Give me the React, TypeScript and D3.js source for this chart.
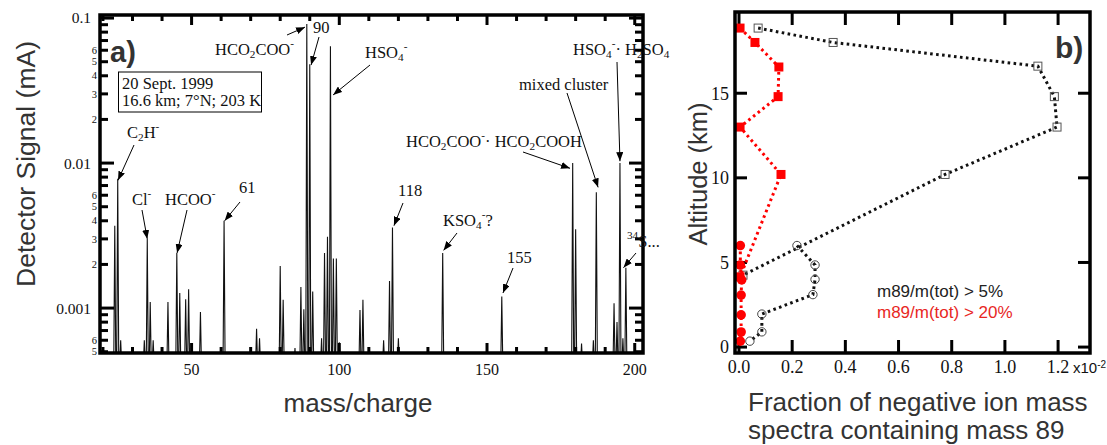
import React from 'react';
import * as d3 from 'd3';

// ---------- Panel a) data: mass spectrum ----------
const peakMass = [24, 25, 26, 34, 35, 36, 37, 42, 45, 46, 48, 49, 53, 61, 72, 73, 80, 81, 85, 87, 88, 89, 90, 91, 94, 95, 96, 97, 98, 99, 100, 107, 108, 115, 117, 118, 120, 135, 155, 179, 180, 182, 186, 187, 193, 194, 195, 196, 197];
const peakSignal = [0.0037, 0.0078, 0.0006, 0.0006, 0.003, 0.0011, 0.0006, 0.0011, 0.0024, 0.00127, 0.00115, 0.00135, 0.00094, 0.004, 0.00072, 0.00062, 0.00195, 0.00114, 0.00053, 0.0014, 0.00098, 0.091, 0.048, 0.0013, 0.00062, 0.0024, 0.0031, 0.064, 0.0022, 0.0022, 0.00058, 0.00097, 0.00114, 0.0006, 0.00154, 0.0036, 0.00062, 0.0024, 0.0012, 0.01, 0.0035, 0.00057, 0.0006, 0.0063, 0.00108, 0.0008, 0.01, 0.00062, 0.0019];

const massMajorTicks = [50, 100, 150, 200];
const massMinorTicks = [20, 30, 40, 60, 70, 80, 90, 110, 120, 130, 140, 160, 170, 180, 190];
const signalMajorTicks = [0.1, 0.01, 0.001];
const signalMajorLabels = ['0.1', '0.01', '0.001'];
const signalMinorMantissas = [2, 3, 4, 5, 6, 7, 8, 9];
const signalMinorLabelled = [2, 3, 4, 5, 6];

type Part = [string, string?];
const annLabels: Part[][] = [
  [['C'], ['2', 'sub'], ['H'], ['-', 'sup']],
  [['Cl'], ['-', 'sup']],
  [['HCOO'], ['-', 'sup']],
  [['61']],
  [['HCO'], ['2', 'sub'], ['COO'], ['-', 'sup']],
  [['90']],
  [['HSO'], ['4', 'sub'], ['-', 'sup']],
  [['118']],
  [['KSO'], ['4', 'sub'], ['-', 'sup'], ['?']],
  [['155']],
  [['HCO'], ['2', 'sub'], ['COO'], ['-', 'sup'], ['· HCO'], ['2', 'sub'], ['COOH']],
  [['mixed cluster']],
  [['HSO'], ['4', 'sub'], ['-', 'sup'], ['· H'], ['2', 'sub'], ['SO'], ['4', 'sub']],
  [['34', 'sup'], ['S...']],
];
// arrow tips in data coords (mass, signal)
const annTipMass = [25.1, 35, 45.1, 61.2, 88.4, 90.45, 97.9, 118.5, 135.3, 155.4, 178.1, 187.6, 195, 196.2];
const annTipSignal = [0.0076, 0.003, 0.0024, 0.004, 0.0866, 0.0474, 0.0295, 0.0037, 0.0025, 0.00127, 0.0092, 0.0068, 0.0103, 0.0019];
// text positions & arrow tails (layout, px)
const annTextPos = [[127, 138], [132, 205], [165, 205], [239, 193], [215, 55], [313, 33], [365, 58], [398, 196], [443, 226], [507, 263], [406, 147], [519, 90], [573, 55], [627, 247]];
const annTail = [[134, 145], [142, 210], [187, 210], [240, 202], [287, 35], [319, 37], [370, 65], [403, 203], [457, 233], [513, 268], [523, 152], [567, 93], [617, 62], [636, 253]];

// ---------- Panel b) data: altitude profiles ----------
const blackSqFrac = [0.072, 0.354, 1.124, 1.186, 1.196, 0.775, 0.015];
const blackSqAlt = [18.85, 18.0, 16.6, 14.8, 13.0, 10.2, 4.25];
const blackCircFrac = [0.218, 0.286, 0.286, 0.278, 0.086, 0.086, 0.041];
const blackCircAlt = [6.0, 4.85, 4.0, 3.1, 1.95, 0.9, 0.35];
const redSqFrac = [0.004, 0.06, 0.15, 0.147, 0.004, 0.158, 0.004];
const redSqAlt = [18.85, 18.0, 16.55, 14.8, 13.0, 10.2, 4.15];
const redCircFrac = [0.005, 0.005, 0.01, 0.008, 0.008, 0.008, 0.005];
const redCircAlt = [6.0, 4.85, 3.97, 3.07, 1.9, 0.89, 0.35];

const fracTicks = [0, 0.2, 0.4, 0.6, 0.8, 1.0, 1.2];
const fracLabels = ['0.0', '0.2', '0.4', '0.6', '0.8', '1.0', '1.2'];
const altTicks = [0, 5, 10, 15];

const SERIF = '"Liberation Serif", "Times New Roman", serif';
const SANS = '"Liberation Sans", Arial, sans-serif';
const RED = '#ff0000';

function Rich({ parts, x, y, size }: { parts: Part[]; x: number; y: number; size: number }) {
  return (
    <text x={x} y={y} fontFamily={SERIF} fontSize={size} fill="#111">
      {parts.map((p, i) => {
        const k = p[1];
        if (k === 'sub') return <tspan key={i} fontSize={size * 0.68} baselineShift="-28%">{p[0]}</tspan>;
        if (k === 'sup') return <tspan key={i} fontSize={size * 0.68} baselineShift="70%">{p[0]}</tspan>;
        return <tspan key={i}>{p[0]}</tspan>;
      })}
    </text>
  );
}

export default function App() {
  // Panel a scales
  const ax = { l: 100, r: 643, t: 15, b: 353 };
  const x = d3.scaleLinear().domain([19, 202.8]).range([ax.l, ax.r]);
  const y = d3.scaleLog().domain([0.00049, 0.105]).range([ax.b, ax.t]);

  // Panel b scales
  const bx = { l: 735, r: 1090, t: 12, b: 353 };
  const x2 = d3.scaleLinear().domain([-0.015, 1.32]).range([bx.l, bx.r]);
  const y2 = d3.scaleLinear().domain([-0.35, 19.8]).range([bx.b, bx.t]);

  const floor = 0.0004;
  const hw = 0.35;
  const spec = peakMass
    .map((m, i) => `M${x(m - hw)},${y(floor)}L${x(m)},${y(peakSignal[i])}L${x(m + hw)},${y(floor)}`)
    .join('');

  const minorSignal: number[] = [];
  [-4, -3, -2].forEach((e) => {
    signalMinorMantissas.forEach((mm) => {
      const v = mm * Math.pow(10, e);
      if (v >= 0.00049 && v <= 0.105) minorSignal.push(v);
    });
  });

  const line = d3.line<[number, number]>().x((d) => x2(d[0])).y((d) => y2(d[1]));
  const zip = (a: number[], b: number[]) => a.map((v, i) => [v, b[i]] as [number, number]);

  const tickW = 3;

  return (
    <svg width={1107} height={445} style={{ position: 'absolute', left: 0, top: 0, background: '#fff' }}>
      <defs>
        <clipPath id="clipA">
          <rect x={ax.l} y={ax.t} width={ax.r - ax.l} height={ax.b - ax.t} />
        </clipPath>
        <marker id="arr" markerUnits="userSpaceOnUse" markerWidth={9} markerHeight={7} refX={9} refY={3.5} orient="auto">
          <path d="M0,0 L9,3.5 L0,7 z" fill="#000" />
        </marker>
      </defs>
      <rect x={0} y={0} width={1107} height={445} fill="#fff" />

      {/* ===== Panel a ===== */}
      <path d={spec} fill="none" stroke="#111" strokeWidth={1.1} clipPath="url(#clipA)" />

      {/* y ticks */}
      {signalMajorTicks.map((v, i) => (
        <g key={'ym' + i}>
          <line x1={ax.l} x2={ax.l + 14} y1={y(v)} y2={y(v)} stroke="#000" strokeWidth={tickW} />
          <line x1={ax.r - 14} x2={ax.r} y1={y(v)} y2={y(v)} stroke="#000" strokeWidth={tickW} />
          <text x={91} y={y(v)} dy="0.35em" textAnchor="end" fontFamily={SERIF} fontSize={15.5} fill="#111">
            {signalMajorLabels[i]}
          </text>
        </g>
      ))}
      {minorSignal.map((v, i) => {
        const mant = Math.round(v / Math.pow(10, Math.floor(Math.log10(v) + 1e-9)));
        return (
          <g key={'yn' + i}>
            <line x1={ax.l} x2={ax.l + 8} y1={y(v)} y2={y(v)} stroke="#000" strokeWidth={tickW} />
            <line x1={ax.r - 8} x2={ax.r} y1={y(v)} y2={y(v)} stroke="#000" strokeWidth={tickW} />
            {signalMinorLabelled.includes(mant) && (
              <text x={97} y={y(v)} dy="0.35em" textAnchor="end" fontFamily={SERIF} fontSize={10.5} fill="#111">
                {mant}
              </text>
            )}
          </g>
        );
      })}
      {/* x ticks */}
      {massMajorTicks.map((m) => (
        <g key={'xm' + m}>
          <line x1={x(m)} x2={x(m)} y1={ax.t} y2={ax.t + 10} stroke="#000" strokeWidth={tickW} />
          <line x1={x(m)} x2={x(m)} y1={ax.b - 10} y2={ax.b} stroke="#000" strokeWidth={tickW} />
          <text x={x(m)} y={375} textAnchor="middle" fontFamily={SERIF} fontSize={16} fill="#111">
            {m}
          </text>
        </g>
      ))}
      {massMinorTicks.map((m) => (
        <g key={'xn' + m}>
          <line x1={x(m)} x2={x(m)} y1={ax.t} y2={ax.t + 6} stroke="#000" strokeWidth={tickW} />
          <line x1={x(m)} x2={x(m)} y1={ax.b - 6} y2={ax.b} stroke="#000" strokeWidth={tickW} />
        </g>
      ))}
      <rect x={ax.l} y={ax.t} width={ax.r - ax.l} height={ax.b - ax.t} fill="none" stroke="#000" strokeWidth={3.5} />

      {/* annotations */}
      {annLabels.map((parts, i) => (
        <g key={'ann' + i}>
          <Rich parts={parts} x={annTextPos[i][0]} y={annTextPos[i][1]} size={16.5} />
          <line
            x1={annTail[i][0]}
            y1={annTail[i][1]}
            x2={x(annTipMass[i])}
            y2={y(annTipSignal[i])}
            stroke="#000"
            strokeWidth={1}
            markerEnd="url(#arr)"
          />
        </g>
      ))}

      {/* info box */}
      <rect x={118.5} y={72} width={143} height={40} fill="#fff" stroke="#000" strokeWidth={1} />
      <text x={122} y={89} fontFamily={SERIF} fontSize={16.5} fill="#111">20 Sept. 1999</text>
      <text x={122} y={106} fontFamily={SERIF} fontSize={16.5} fill="#111">16.6 km; 7°N; 203 K</text>

      <text x={110} y={62} fontFamily={SANS} fontWeight="bold" fontSize={29} fill="#333">a)</text>

      <text transform="translate(35,164) rotate(-90)" textAnchor="middle" fontFamily={SANS} fontSize={26.5} fill="#333">
        Detector Signal (mA)
      </text>
      <text x={358} y={412} textAnchor="middle" fontFamily={SANS} fontSize={26} fill="#333">
        mass/charge
      </text>

      {/* ===== Panel b ===== */}
      {fracTicks.map((f, i) => (
        <g key={'bx' + i}>
          <line x1={x2(f)} x2={x2(f)} y1={bx.b - 13} y2={bx.b} stroke="#000" strokeWidth={tickW} />
          <line x1={x2(f)} x2={x2(f)} y1={bx.t} y2={bx.t + 13} stroke="#000" strokeWidth={tickW} />
          <text x={x2(f)} y={373} textAnchor="middle" fontFamily={SERIF} fontSize={18} fill="#111">
            {fracLabels[i]}
          </text>
        </g>
      ))}
      <text x={1073} y={373} fontFamily={SANS} fontSize={15} fill="#111">
        x10<tspan fontSize={10} baselineShift="50%">-2</tspan>
      </text>
      {altTicks.map((a) => (
        <g key={'by' + a}>
          <line x1={bx.l} x2={bx.l + 12} y1={y2(a)} y2={y2(a)} stroke="#000" strokeWidth={tickW} />
          <line x1={bx.r - 12} x2={bx.r} y1={y2(a)} y2={y2(a)} stroke="#000" strokeWidth={tickW} />
          <text x={729} y={y2(a)} dy="0.35em" textAnchor="end" fontFamily={SERIF} fontSize={18} fill="#111">
            {a}
          </text>
        </g>
      ))}

      {/* black profiles */}
      <path d={line(zip(blackSqFrac, blackSqAlt)) || ''} fill="none" stroke="#111" strokeWidth={3} strokeDasharray="2.6 3.4" />
      <path d={line(zip(blackCircFrac, blackCircAlt)) || ''} fill="none" stroke="#111" strokeWidth={3} strokeDasharray="2.6 3.4" />
      {blackSqFrac.map((f, i) => (
        <rect key={'bs' + i} x={x2(f) - 4} y={y2(blackSqAlt[i]) - 4} width={8} height={8} fill="none" stroke="#555" strokeWidth={1} />
      ))}
      {blackCircFrac.map((f, i) => (
        <circle key={'bc' + i} cx={x2(f)} cy={y2(blackCircAlt[i])} r={4.2} fill="none" stroke="#444" strokeWidth={1} />
      ))}

      {/* red profiles */}
      <path d={line(zip(redSqFrac, redSqAlt)) || ''} fill="none" stroke={RED} strokeWidth={3} strokeDasharray="2.6 3.4" />
      <path d={line(zip(redCircFrac, redCircAlt)) || ''} fill="none" stroke={RED} strokeWidth={3} strokeDasharray="2.6 3.4" />
      {redSqFrac.map((f, i) => (
        <rect key={'rs' + i} x={x2(f) - 4.5} y={y2(redSqAlt[i]) - 4.5} width={9} height={9} fill={RED} />
      ))}
      {redCircFrac.map((f, i) => (
        <circle key={'rc' + i} cx={x2(f)} cy={y2(redCircAlt[i])} r={4.8} fill={RED} />
      ))}

      <rect x={bx.l} y={bx.t} width={bx.r - bx.l} height={bx.b - bx.t} fill="none" stroke="#000" strokeWidth={3.5} />

      <text x={877} y={297} fontFamily={SANS} fontSize={17} fill="#222">m89/m(tot) &gt; 5%</text>
      <text x={877} y={318} fontFamily={SANS} fontSize={17} fill="#e8271f">m89/m(tot) &gt; 20%</text>

      <text x={1055} y={58} fontFamily={SANS} fontWeight="bold" fontSize={30} fill="#333">b)</text>

      <text transform="translate(707,174) rotate(-90)" textAnchor="middle" fontFamily={SANS} fontSize={25.5} fill="#333">
        Altitude (km)
      </text>
      <text x={748} y={411} fontFamily={SANS} fontSize={26} fill="#333">Fraction of negative ion mass</text>
      <text x={748} y={439} fontFamily={SANS} fontSize={26} fill="#333">spectra containing mass 89</text>
    </svg>
  );
}
